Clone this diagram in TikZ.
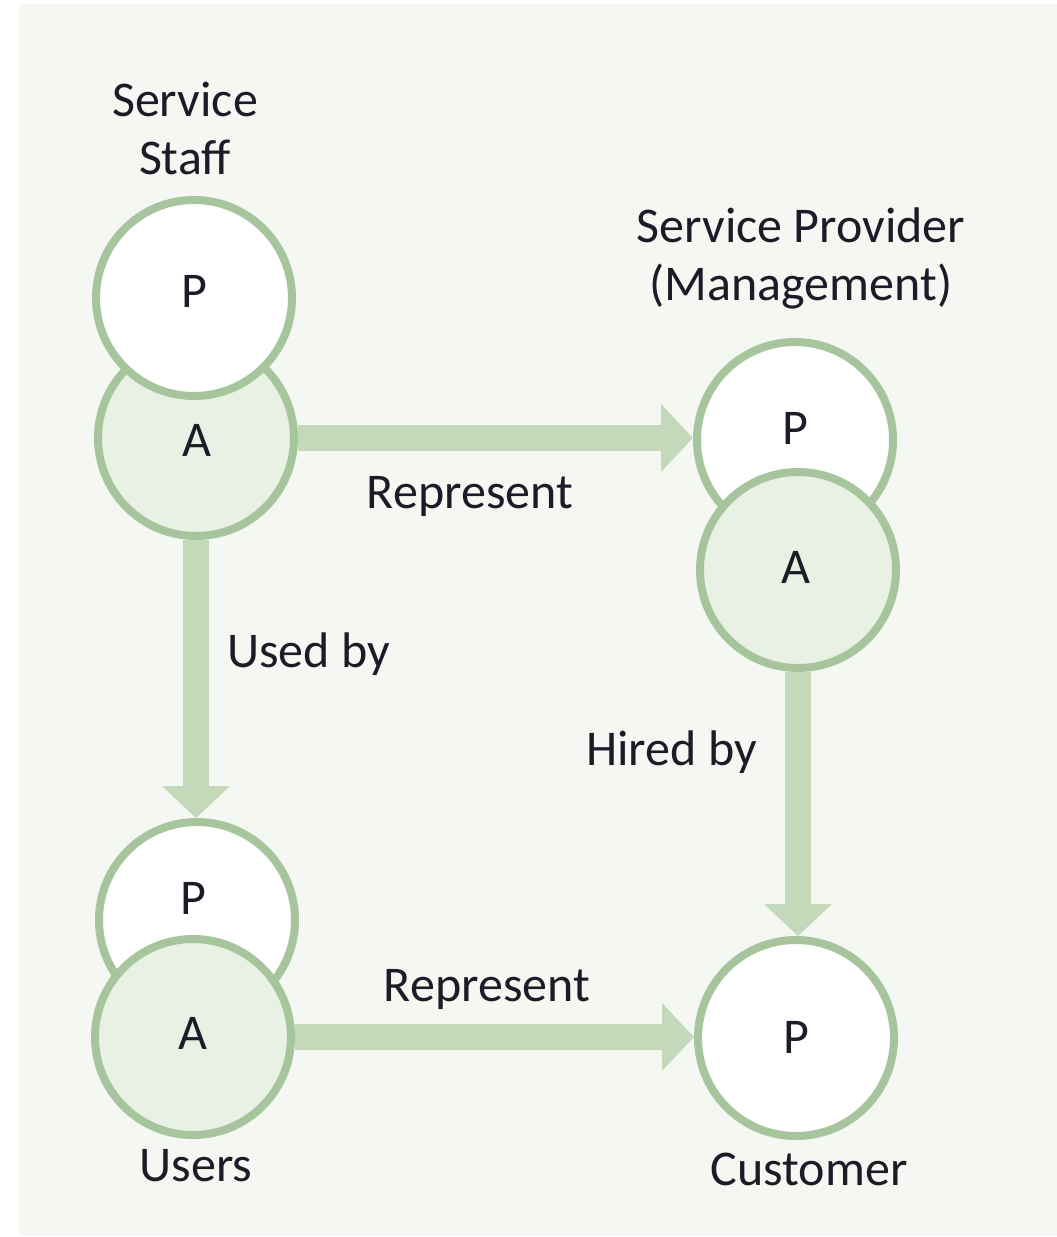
\documentclass[tikz,border=0pt]{standalone}
\usepackage{fontspec}
\setmainfont{Carlito}
\usetikzlibrary{arrows.meta,positioning}

\definecolor{bgpanel}{HTML}{F4F7F2}
\definecolor{ringgreen}{HTML}{A7C59C}
\definecolor{arrowgreen}{HTML}{C4D8BA}
\definecolor{agentfill}{HTML}{E9F1E5}
\definecolor{inkdark}{HTML}{1C1C28}

\begin{document}
\begin{tikzpicture}[
    x=1pt, y=-1pt,
    font=\fontsize{50}{58}\selectfont, text=inkdark,
    role/.style={circle, draw=ringgreen, line width=8pt, minimum size=196pt, inner sep=0pt},
    principal/.style={role, fill=white},
    agent/.style={role, fill=agentfill},
    letter/.style={inner sep=0pt},
    caption/.style={align=center, inner sep=0pt, anchor=base},
    flow/.style={arrowgreen, line width=26pt, -{Triangle[width=66pt,length=32pt]}}
]
\useasboundingbox (0,0) rectangle (1057,1237);
\fill[bgpanel] (19,4) rectangle (1057,1236);

% role circles (lower one first, the upper one covers it)
\node[agent] (staffA) at (196,438) {};
\node[principal] (staffP) at (194,298) {};
\node[principal] (provP) at (795,440) {};
\node[agent] (provA) at (798,570) {};
\node[principal] (usersP) at (197,920) {};
\node[agent] (usersA) at (193,1037) {};
\node[principal] (custP) at (796,1038) {};

\node[letter] (staffPtxt) at (194,291) {P};
\node[letter] (staffAtxt) at (197,440) {A};
\node[letter] (provPtxt) at (795,428) {P};
\node[letter] (provAtxt) at (796,567) {A};
\node[letter] (usersPtxt) at (193,898) {P};
\node[letter] (usersAtxt) at (193,1033) {A};
\node[letter] (custPtxt) at (796,1037) {P};

% relations
\draw[flow] (staffA.east) -- (staffA.east -| provP.west);
\draw[flow] (staffA.south) -- (staffA.south |- usersP.north);
\draw[flow] (provA.south) -- (provA.south |- custP.north);
\draw[flow] (usersA.east) -- (usersA.east -| custP.west);

% captions (base = last line)
\node[caption] (staffCap) at (185,174) {Service\\Staff};
\node[caption] (provCap) at (801,300) {Service Provider\\(Management)};
\node[caption] (usersCap) at (196,1181) {Users};
\node[caption] (custCap) at (809,1185) {Customer};

\node[caption] (repTop) at (470,508) {Represent};
\node[caption, anchor=base west] (usedBy) at (227,667) {Used by};
\node[caption, anchor=base west] (hiredBy) at (586,765) {Hired by};
\node[caption] (repBottom) at (487,1001) {Represent};

\end{tikzpicture}
\end{document}
